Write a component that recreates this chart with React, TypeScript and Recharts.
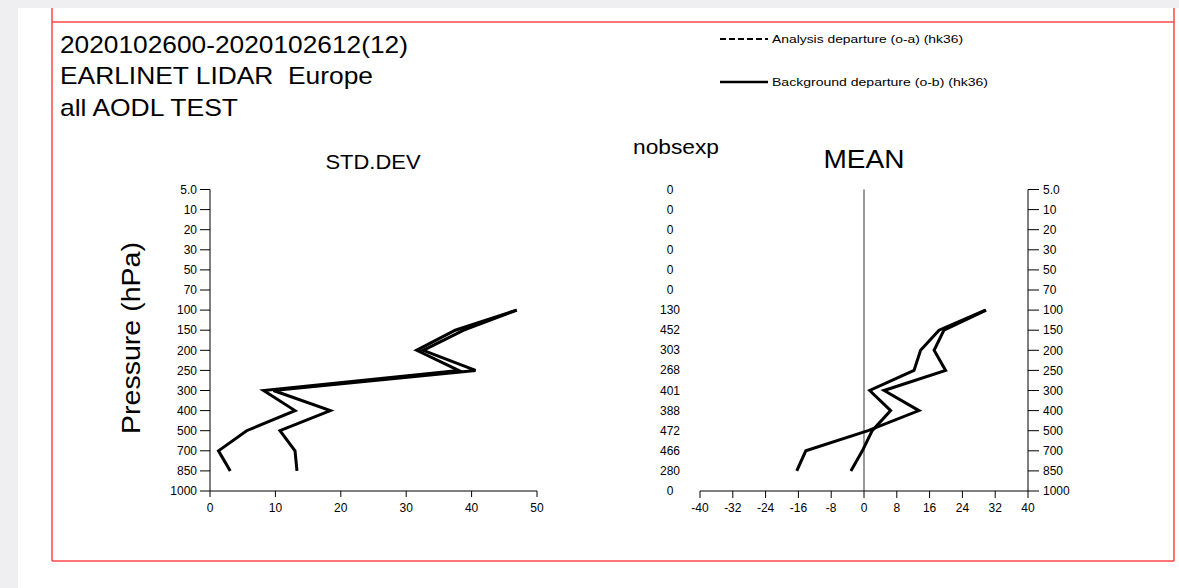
import React from "react";
import { LineChart, Line, XAxis, YAxis, ReferenceLine } from "recharts";

// pressure levels (hPa), top to bottom
const levels = ["5.0", "10", "20", "30", "50", "70", "100", "150", "200", "250", "300", "400", "500", "700", "850", "1000"];
const nobsexp = [0, 0, 0, 0, 0, 0, 130, 452, 303, 268, 401, 388, 472, 466, 280, 0];

const stdAnalysis = [null, null, null, null, null, null, 46.9, 37.5, 31.6, 38.0, 8.2, 13.0, 5.6, 1.3, 3.1, null];
const stdBackground = [null, null, null, null, null, null, 46.9, 38.8, 32.6, 40.6, 9.7, 18.4, 10.7, 13.0, 13.3, null];
const meanAnalysis = [null, null, null, null, null, null, 29.6, 18.3, 13.8, 12.2, 1.4, 6.5, 2.0, -0.4, -3.2, null];
const meanBackground = [null, null, null, null, null, null, 29.8, 19.5, 17.1, 19.9, 4.9, 13.4, 1.0, -14.2, -16.4, null];

const stdTicks = [0, 10, 20, 30, 40, 50];
const meanTicks = [-40, -32, -24, -16, -8, 0, 8, 16, 24, 32, 40];

const chartData = levels.map((level, i) => ({
    level,
    stdA: stdAnalysis[i],
    stdB: stdBackground[i],
    meanA: meanAnalysis[i],
    meanB: meanBackground[i]
}));

const FONT = "'Liberation Sans', Arial, sans-serif";
const tickStyle = { fill: "#000", fontSize: 12, fontFamily: FONT };

const NobsTick = (props: any) => {
    const { y, payload, index } = props;
    const i = payload && payload.index !== undefined ? payload.index : index;
    return (
        <text x={70} y={y} dy={4} textAnchor="middle" fontSize={12} fontFamily={FONT} fill="#000">
            {nobsexp[i]}
        </text>
    );
};

const App: React.FC = () => {
    return (
        <div style={{ position: "absolute", left: 0, top: 0, width: 1179, height: 588, background: "#efeff1", overflow: "hidden" }}>
            <svg width={1179} height={588} style={{ position: "absolute", left: 0, top: 0 }}>
                <rect x={18} y={8} width={1161} height={580} fill="#fff" />
                <line x1={52} y1={8} x2={52} y2={561} stroke="#ff4646" strokeWidth={1.5} />
                <line x1={1174} y1={8} x2={1174} y2={561} stroke="#ff4646" strokeWidth={1.5} />
                <line x1={52} y1={22} x2={1174} y2={22} stroke="#ff4646" strokeWidth={1.5} />
                <line x1={52} y1={561} x2={1174} y2={561} stroke="#ff4646" strokeWidth={1.5} />

                <g fontFamily={FONT} fill="#000">
                    <text x={60} y={53} fontSize={24} textLength={348} lengthAdjust="spacingAndGlyphs">2020102600-2020102612(12)</text>
                    <text x={60} y={84} fontSize={24} textLength={313} lengthAdjust="spacingAndGlyphs" style={{ whiteSpace: "pre" }}>EARLINET LIDAR  Europe</text>
                    <text x={60} y={116} fontSize={24} textLength={178} lengthAdjust="spacingAndGlyphs">all AODL TEST</text>

                    <text x={373} y={169} fontSize={21} textAnchor="middle" textLength={95} lengthAdjust="spacingAndGlyphs">STD.DEV</text>
                    <text x={676} y={154} fontSize={21} textAnchor="middle" textLength={86} lengthAdjust="spacingAndGlyphs">nobsexp</text>
                    <text x={864} y={168} fontSize={26} textAnchor="middle" textLength={81} lengthAdjust="spacingAndGlyphs">MEAN</text>

                    <text x={140} y={338} fontSize={25} textAnchor="middle" transform="rotate(-90 140 338)" textLength={192} lengthAdjust="spacingAndGlyphs">Pressure (hPa)</text>

                    <line x1={720} y1={39} x2={768} y2={39} stroke="#000" strokeWidth={2} strokeDasharray="6 3" />
                    <text x={772} y={43} fontSize={11} textLength={191} lengthAdjust="spacingAndGlyphs">Analysis departure (o-a) (hk36)</text>
                    <line x1={720} y1={82} x2={768} y2={82} stroke="#000" strokeWidth={2.5} />
                    <text x={772} y={86} fontSize={11} textLength={216} lengthAdjust="spacingAndGlyphs">Background departure (o-b) (hk36)</text>
                </g>
            </svg>

            {/* STD.DEV panel */}
            <div style={{ position: "absolute", left: 100, top: 170 }}>
                <LineChart
                    width={470}
                    height={360}
                    data={chartData}
                    layout="vertical"
                    margin={{ top: 19.5, right: 33, left: 0, bottom: 9 }}
                >
                    <XAxis
                        type="number"
                        domain={[0, 50]}
                        ticks={stdTicks}
                        interval={0}
                        height={30}
                        tickSize={6}
                        tickMargin={6}
                        tick={tickStyle}
                        axisLine={{ stroke: "#000" }}
                        tickLine={{ stroke: "#000" }}
                    />
                    <YAxis
                        type="category"
                        dataKey="level"
                        width={110}
                        interval={0}
                        tickSize={10}
                        tickMargin={3}
                        tick={tickStyle}
                        axisLine={{ stroke: "#000" }}
                        tickLine={{ stroke: "#000" }}
                    />
                    <Line dataKey="stdA" stroke="#000" strokeWidth={3} dot={false} isAnimationActive={false} />
                    <Line dataKey="stdB" stroke="#000" strokeWidth={3} dot={false} isAnimationActive={false} />
                </LineChart>
            </div>

            {/* MEAN panel */}
            <div style={{ position: "absolute", left: 600, top: 170 }}>
                <LineChart
                    width={520}
                    height={360}
                    data={chartData}
                    layout="vertical"
                    margin={{ top: 19.5, right: 32, left: 0, bottom: 9 }}
                >
                    <XAxis
                        type="number"
                        domain={[-40, 40]}
                        ticks={meanTicks}
                        interval={0}
                        height={30}
                        tickSize={7}
                        tickMargin={5}
                        tick={tickStyle}
                        axisLine={{ stroke: "#000" }}
                        tickLine={{ stroke: "#000" }}
                    />
                    <YAxis
                        yAxisId="nobs"
                        type="category"
                        dataKey="level"
                        width={100}
                        interval={0}
                        tickSize={0}
                        axisLine={false}
                        tickLine={false}
                        tick={<NobsTick />}
                    />
                    <YAxis
                        yAxisId="p"
                        type="category"
                        dataKey="level"
                        orientation="right"
                        width={60}
                        interval={0}
                        tickSize={11}
                        tickMargin={4}
                        tick={tickStyle}
                        axisLine={{ stroke: "#000" }}
                        tickLine={{ stroke: "#000" }}
                    />
                    <ReferenceLine x={0} yAxisId="p" stroke="#333" strokeWidth={1} />
                    <Line yAxisId="p" dataKey="meanA" stroke="#000" strokeWidth={3} dot={false} isAnimationActive={false} />
                    <Line yAxisId="p" dataKey="meanB" stroke="#000" strokeWidth={3} dot={false} isAnimationActive={false} />
                </LineChart>
            </div>
        </div>
    );
};

export default App;
